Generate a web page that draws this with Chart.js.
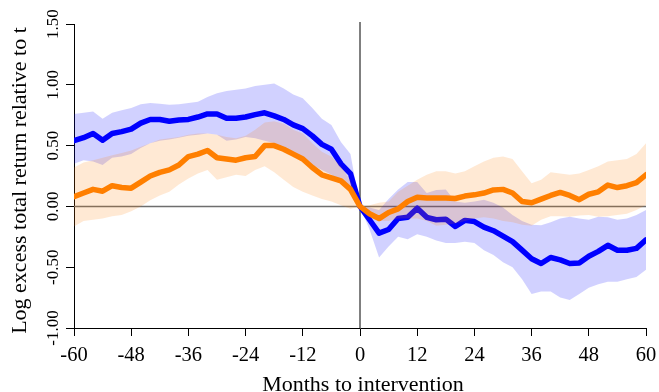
<!DOCTYPE html>
<html>
<head>
<meta charset="utf-8">
<script src="https://cdn.jsdelivr.net/npm/chart.js@4"></script>
<style>
  body { margin: 0; background: #fff; }
  #wrap { width: 659px; height: 392px; }
</style>
</head>
<body>
<div id="wrap"><canvas id="chart"></canvas></div>
<script>
// months relative to the intervention (every 2 months)
const months = [];
for (let m = -60; m <= 60; m += 2) months.push(m);

const blueMean = [0.54, 0.565, 0.60, 0.545, 0.60, 0.615, 0.635, 0.685, 0.715, 0.715, 0.70, 0.71, 0.715, 0.735, 0.76, 0.76, 0.725, 0.725, 0.735, 0.755, 0.77, 0.745, 0.715, 0.67, 0.64, 0.58, 0.51, 0.47, 0.35, 0.27,
  0.0,
  -0.11, -0.22, -0.19, -0.10, -0.09, -0.015, -0.09, -0.11, -0.105, -0.165, -0.115, -0.125, -0.17, -0.20, -0.245, -0.29, -0.36, -0.43, -0.47, -0.42, -0.44, -0.47, -0.465, -0.41, -0.37, -0.32, -0.36, -0.36, -0.345, -0.275];
const blueHi = [0.76, 0.77, 0.78, 0.72, 0.77, 0.79, 0.81, 0.84, 0.85, 0.845, 0.835, 0.84, 0.85, 0.86, 0.90, 0.93, 0.95, 0.96, 0.97, 0.99, 1.00, 1.01, 0.97, 0.92, 0.89, 0.81, 0.72, 0.67, 0.53, 0.43,
  0.0,
  -0.01, -0.03, 0.06, 0.14, 0.20, 0.20, 0.11, 0.135, 0.14, 0.04, 0.03, 0.04, 0.055, 0.03, -0.01, -0.07, -0.12, -0.15, -0.155, -0.13, -0.10, -0.085, -0.10, -0.11, -0.085, -0.09, -0.11, -0.10, -0.07, -0.03];
const blueLo = [0.35, 0.38, 0.37, 0.34, 0.40, 0.41, 0.43, 0.48, 0.52, 0.54, 0.55, 0.565, 0.58, 0.59, 0.60, 0.59, 0.54, 0.55, 0.57, 0.56, 0.54, 0.52, 0.48, 0.44, 0.40, 0.34, 0.30, 0.26, 0.20, 0.13,
  0.0,
  -0.19, -0.42, -0.33, -0.25, -0.27, -0.23, -0.25, -0.28, -0.30, -0.30, -0.29, -0.30, -0.36, -0.40, -0.46, -0.50, -0.60, -0.72, -0.70, -0.70, -0.75, -0.77, -0.72, -0.67, -0.64, -0.62, -0.62, -0.60, -0.58, -0.52];

const orangeMean = [0.08, 0.11, 0.14, 0.125, 0.17, 0.155, 0.15, 0.20, 0.25, 0.28, 0.30, 0.34, 0.41, 0.43, 0.46, 0.40, 0.39, 0.38, 0.40, 0.41, 0.50, 0.50, 0.47, 0.43, 0.39, 0.32, 0.26, 0.235, 0.21, 0.14,
  0.0,
  -0.06, -0.10, -0.05, -0.02, 0.04, 0.075, 0.07, 0.07, 0.07, 0.065, 0.085, 0.095, 0.11, 0.135, 0.14, 0.11, 0.04, 0.03, 0.06, 0.09, 0.115, 0.09, 0.055, 0.10, 0.12, 0.175, 0.155, 0.17, 0.195, 0.26];
const orangeHi = [0.32, 0.36, 0.38, 0.40, 0.42, 0.44, 0.46, 0.49, 0.52, 0.55, 0.56, 0.57, 0.59, 0.60, 0.60, 0.59, 0.57, 0.56, 0.58, 0.63, 0.69, 0.70, 0.68, 0.63, 0.60, 0.52, 0.45, 0.41, 0.33, 0.21,
  0.0,
  0.01, 0.03, 0.04, 0.12, 0.17, 0.22, 0.26, 0.29, 0.29, 0.27, 0.29, 0.33, 0.37, 0.40, 0.41, 0.39, 0.29, 0.19, 0.22, 0.28, 0.27, 0.26, 0.27, 0.30, 0.33, 0.37, 0.38, 0.39, 0.43, 0.52];
const orangeLo = [-0.165, -0.12, -0.11, -0.10, -0.08, -0.07, -0.04, 0.0, 0.05, 0.09, 0.12, 0.18, 0.23, 0.27, 0.30, 0.22, 0.24, 0.26, 0.25, 0.30, 0.33, 0.28, 0.22, 0.16, 0.12, 0.09, 0.06, 0.04, 0.01, -0.02,
  0.0,
  -0.09, -0.12, -0.12, -0.10, -0.10, -0.10, -0.12, -0.16, -0.15, -0.14, -0.12, -0.10, -0.09, -0.10, -0.12, -0.13, -0.15, -0.16, -0.11, -0.08, -0.08, -0.085, -0.075, -0.07, -0.085, -0.08, -0.07, -0.06, -0.03, 0.01];

const xTicks = [-60, -48, -36, -24, -12, 0, 12, 24, 36, 48, 60];
const yTickLabels = ['-1.00', '-0.50', '0.00', '0.50', '1.00', '1.50'];
const xTitle = 'Months to intervention';
const yTitle = 'Log excess total return relative to t';

const FONT = '"Liberation Serif", "DejaVu Serif", serif';
const BLUE = '#0000ff';
const ORANGE = '#ff7f00';

const pts = arr => arr.map((v, i) => ({ x: months[i], y: v }));

const lineStyle = {
    pointRadius: 0,
    tension: 0,
    fill: false,
    borderJoinStyle: 'round',
    borderCapStyle: 'round'
};

// reference lines, tick labels and axis titles (R style)
const decorations = {
    id: 'decorations',
    beforeDatasetsDraw(chart) {
        const { ctx, chartArea, scales } = chart;
        const y0 = scales.y.getPixelForValue(0);
        const x0 = scales.x.getPixelForValue(0);
        ctx.save();
        ctx.strokeStyle = '#6e6e6e';
        ctx.lineWidth = 1.5;
        ctx.beginPath();
        ctx.moveTo(chartArea.left, y0);
        ctx.lineTo(chartArea.right, y0);
        ctx.stroke();
        ctx.strokeStyle = '#000';
        ctx.lineWidth = 1;
        ctx.beginPath();
        ctx.moveTo(x0, chartArea.top - 2);
        ctx.lineTo(x0, chartArea.bottom);
        ctx.stroke();
        ctx.restore();
    },
    afterDraw(chart) {
        const { ctx, scales } = chart;
        ctx.save();
        ctx.fillStyle = '#000';
        ctx.textAlign = 'center';
        ctx.textBaseline = 'alphabetic';

        // y tick labels, rotated
        ctx.font = '17px ' + FONT;
        scales.y.ticks.forEach((t, i) => {
            const py = scales.y.getPixelForValue(t.value);
            ctx.save();
            ctx.translate(57.5, py);
            ctx.rotate(-Math.PI / 2);
            ctx.fillText(yTickLabels[i], 0, 0);
            ctx.restore();
        });

        // x tick labels
        ctx.font = '20.5px ' + FONT;
        xTicks.forEach(v => {
            ctx.fillText(String(v), scales.x.getPixelForValue(v), 361);
        });

        // axis titles
        ctx.font = '22px ' + FONT;
        ctx.fillText(xTitle, 363, 391);
        ctx.translate(25.5, 180.5);
        ctx.rotate(-Math.PI / 2);
        ctx.fillText(yTitle, 0, 0);
        ctx.restore();
    }
};

new Chart(document.getElementById('chart'), {
    type: 'line',
    data: {
        datasets: [
            { data: pts(blueHi), borderWidth: 0, pointRadius: 0, tension: 0, fill: '+1', backgroundColor: 'rgba(0, 0, 255, 0.18)', order: 6 },
            { data: pts(blueLo), borderWidth: 0, pointRadius: 0, tension: 0, fill: false, order: 5 },
            { data: pts(blueMean), borderColor: BLUE, borderWidth: 5.5, ...lineStyle, order: 4 },
            { data: pts(orangeHi), borderWidth: 0, pointRadius: 0, tension: 0, fill: '+1', backgroundColor: 'rgba(255, 127, 0, 0.17)', order: 3 },
            { data: pts(orangeLo), borderWidth: 0, pointRadius: 0, tension: 0, fill: false, order: 2 },
            { data: pts(orangeMean), borderColor: ORANGE, borderWidth: 5.5, ...lineStyle, order: 1 }
        ]
    },
    options: {
        responsive: true,
        maintainAspectRatio: false,
        animation: false,
        layout: { padding: { top: 24, right: 13, left: 0, bottom: 0 } },
        plugins: { legend: { display: false }, tooltip: { enabled: false } },
        scales: {
            x: {
                type: 'linear',
                min: -60,
                max: 60,
                afterBuildTicks: scale => { scale.ticks = xTicks.map(v => ({ value: v })); },
                afterFit: scale => { scale.height = 64; },
                grid: { display: true, drawOnChartArea: false, drawTicks: true, tickLength: 8, color: '#000' },
                border: { display: true, color: '#000', width: 1 },
                ticks: { display: false }
            },
            y: {
                min: -1,
                max: 1.5,
                ticks: { stepSize: 0.5, display: false },
                afterFit: scale => { scale.width = 74; },
                grid: { display: true, drawOnChartArea: false, drawTicks: true, tickLength: 8, color: '#000' },
                border: { display: true, color: '#000', width: 1 }
            }
        }
    },
    plugins: [decorations]
});
</script>
</body>
</html>
